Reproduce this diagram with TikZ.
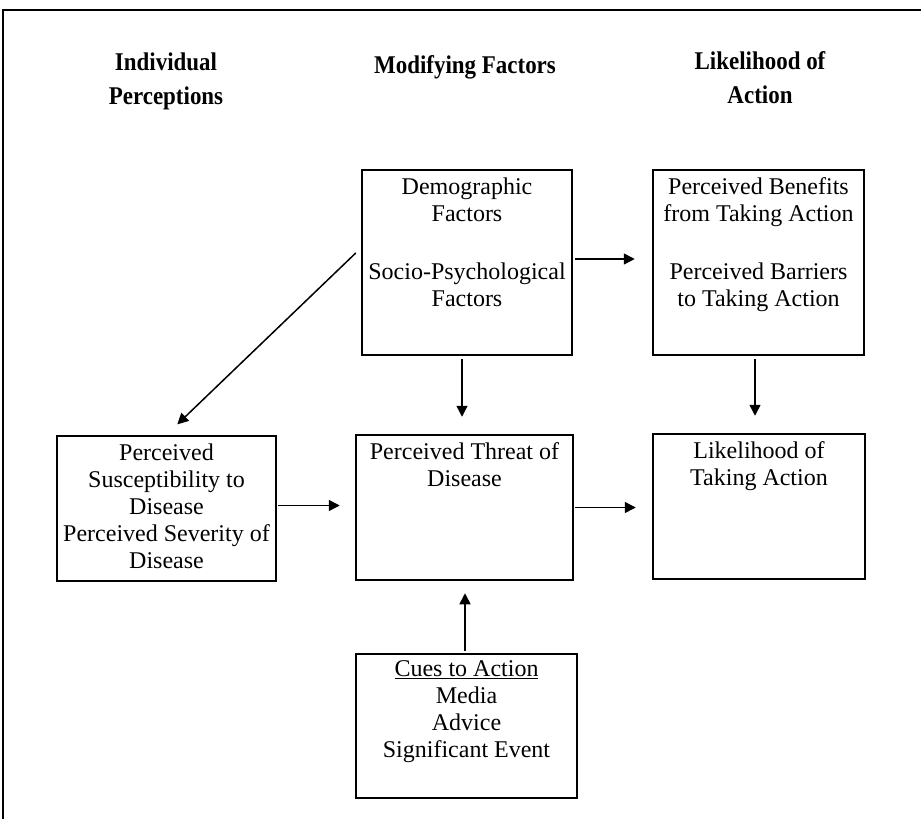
\documentclass[tikz,border=0pt]{standalone}
\usepackage{fontspec}
\setmainfont{Liberation Serif}
\newfontfamily\titlefont[FakeStretch=0.9]{Liberation Serif}
\usetikzlibrary{arrows.meta}
\newcommand\bxtext[4]{\parbox[c][#1][t]{#2}{\centering\vspace*{#3}#4\par}}
\tikzset{
  boxnode/.style={draw=black, line width=2.5pt, inner sep=0pt,
    font=\fontsize{24pt}{27pt}\selectfont},
  arr/.style={line width=1.5pt, -{Triangle[length=11pt,width=11pt]}},
  ttl/.style={font=\titlefont\bfseries\fontsize{25.5pt}{34pt}\selectfont, align=center, inner sep=0pt},
}
\begin{document}
\begin{tikzpicture}[x=1pt,y=-1pt]
\useasboundingbox (0,0) rectangle (921,819);
% frame
\draw[line width=1.8pt] (3,819) -- (3,10) -- (921,10);
% titles
\node[ttl] (t1) at (166,81) {Individual\\Perceptions};
\node[ttl] (t2) at (465,67) {Modifying Factors};
\node[ttl] (t3) at (760,78) {Likelihood of\\Action};
% boxes
\node[boxnode, minimum width=210pt, minimum height=185pt] (dem) at (467,262.5)
  {\bxtext{185pt}{206pt}{8pt}{Demographic\\Factors\\[31pt]Socio-Psychological\\Factors}};
\node[boxnode, minimum width=211pt, minimum height=185pt] (ben) at (758.5,262.5)
  {\bxtext{185pt}{207pt}{8pt}{Perceived Benefits\\from Taking Action\\[31pt]Perceived Barriers\\to Taking Action}};
\node[boxnode, minimum width=219pt, minimum height=145pt] (sus) at (166.5,508.5)
  {\bxtext{145pt}{215pt}{8pt}{Perceived\\Susceptibility to\\Disease\\Perceived Severity of\\Disease}};
\node[boxnode, minimum width=217pt, minimum height=145pt] (thr) at (464.5,507.5)
  {\bxtext{145pt}{213pt}{8pt}{Perceived Threat of\\Disease}};
\node[boxnode, minimum width=212pt, minimum height=145pt] (lik) at (759,506.5)
  {\bxtext{145pt}{208pt}{8pt}{Likelihood of\\Taking Action}};
\node[boxnode, minimum width=221pt, minimum height=144pt] (cue) at (466.5,726)
  {\bxtext{144pt}{217pt}{7pt}{\underline{Cues to Action}\\Media\\Advice\\Significant Event}};
% connectors
\draw[arr, shorten <=2pt, shorten >=17pt] ([yshift=3.5pt]dem.east) -- ([yshift=3.5pt]ben.west);
\draw[arr, shorten >=15pt] ([xshift=-5pt,yshift=9.5pt]dem.west) -- (sus.north);
\draw[arr, shorten <=3pt, shorten >=17pt] ([xshift=-5pt]dem.south) -- ([xshift=-5pt]dem.south |- thr.north);
\draw[arr, shorten <=3pt, shorten >=17pt] ([xshift=-3.5pt]ben.south) -- ([xshift=-3.5pt]ben.south |- lik.north);
\draw[arr, shorten <=1pt, shorten >=15pt] ([yshift=3pt]sus.east) -- ([yshift=3pt]sus.east -| thr.west);
\draw[arr, shorten <=1pt, shorten >=16pt] (thr.east) -- (thr.east -| lik.west);
\draw[arr, shorten <=2pt, shorten >=12pt] ([xshift=-1.5pt]cue.north) -- ([xshift=-1.5pt]cue.north |- thr.south);
\end{tikzpicture}
\end{document}
